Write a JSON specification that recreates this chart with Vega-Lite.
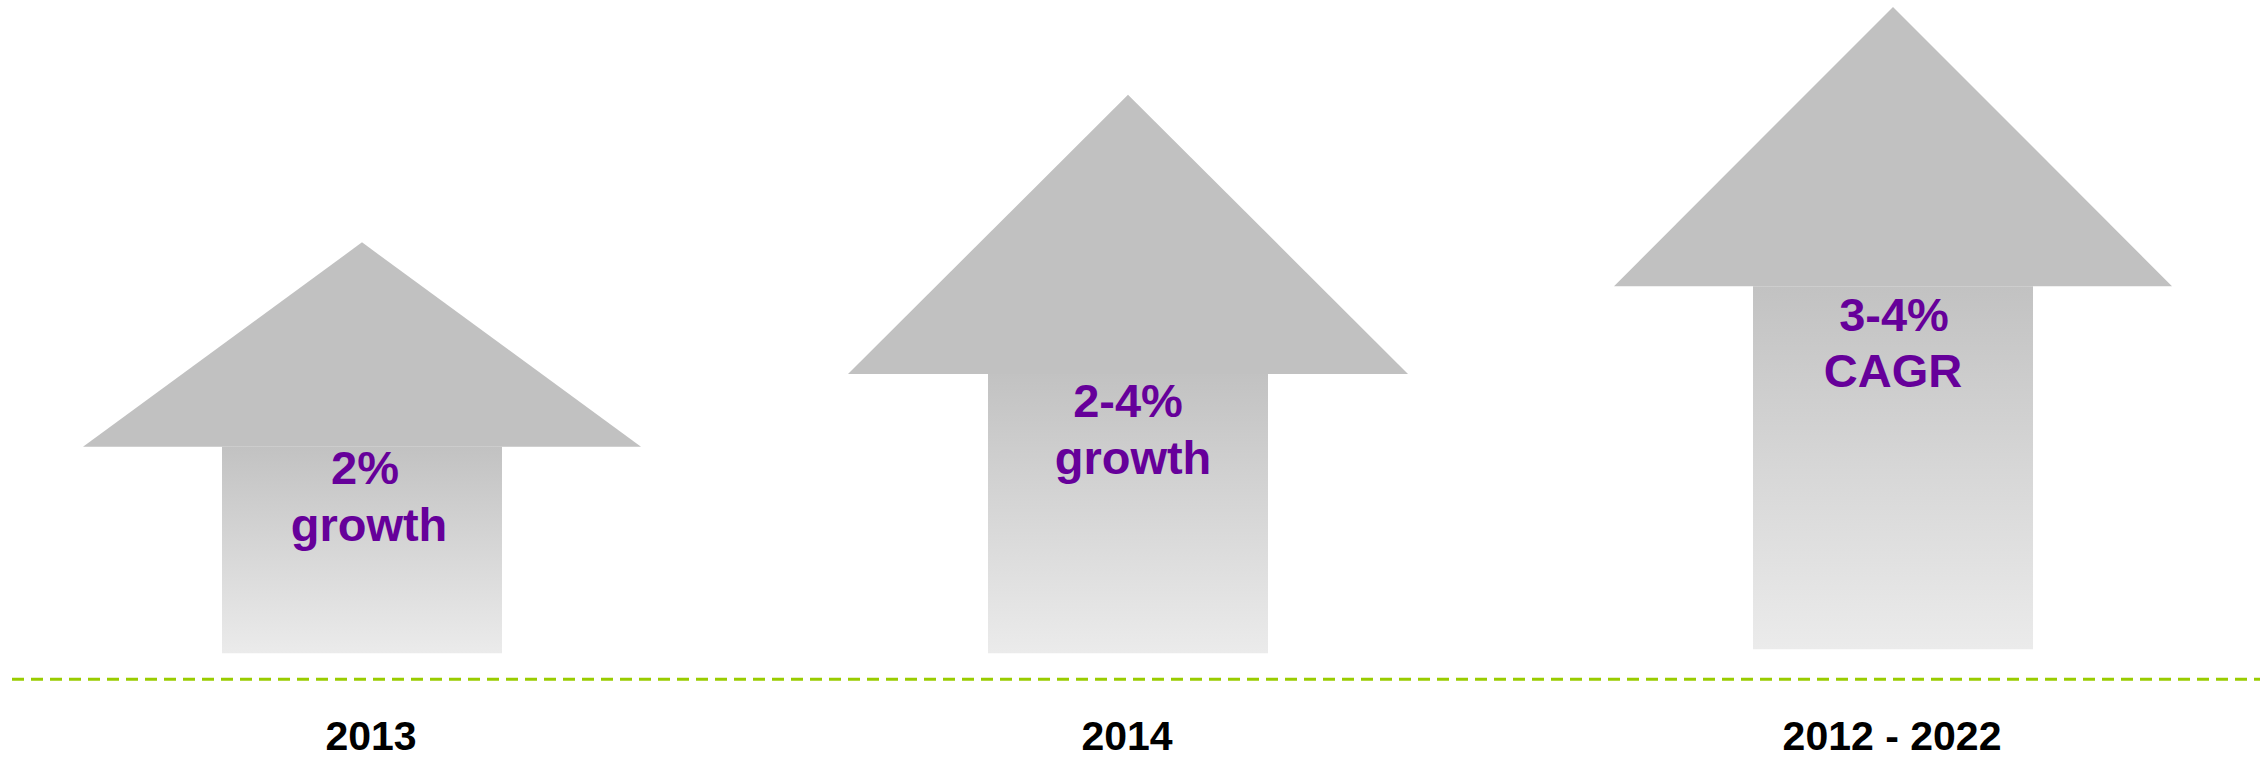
{
  "$schema": "https://vega.github.io/schema/vega-lite/v6.json",
  "width": 2268,
  "height": 758,
  "autosize": {"type": "fit", "contains": "padding"},
  "padding": 0,
  "background": "#FFFFFF",
  "config": {"view": {"stroke": null}},
  "datasets": {
    "heads": [
      {"arrow": "2013", "px": 83, "top": 448, "base": 448},
      {"arrow": "2013", "px": 362, "top": 243, "base": 448},
      {"arrow": "2013", "px": 641, "top": 448, "base": 448},
      {"arrow": "2014", "px": 848, "top": 375, "base": 375},
      {"arrow": "2014", "px": 1128, "top": 95, "base": 375},
      {"arrow": "2014", "px": 1408, "top": 375, "base": 375},
      {"arrow": "2012 - 2022", "px": 1614, "top": 287, "base": 287},
      {"arrow": "2012 - 2022", "px": 1893, "top": 7, "base": 287},
      {"arrow": "2012 - 2022", "px": 2172, "top": 287, "base": 287}
    ],
    "shafts": [
      {"arrow": "2013", "left": 222, "right": 502, "top": 448, "bottom": 655},
      {"arrow": "2014", "left": 988, "right": 1268, "top": 375, "bottom": 655},
      {"arrow": "2012 - 2022", "left": 1753, "right": 2033, "top": 287, "bottom": 651}
    ],
    "labels": [
      {"text": "2%", "cx": 365, "cy": 485},
      {"text": "growth", "cx": 369, "cy": 542},
      {"text": "2-4%", "cx": 1128, "cy": 418},
      {"text": "growth", "cx": 1133, "cy": 475},
      {"text": "3-4%", "cx": 1894, "cy": 332},
      {"text": "CAGR", "cx": 1893, "cy": 388}
    ],
    "baseline": [{"from": 12, "to": 2260, "level": 681}],
    "years": [
      {"year": "2013", "cx": 371, "cy": 752},
      {"year": "2014", "cx": 1127, "cy": 752},
      {"year": "2012 - 2022", "cx": 1892, "cy": 752}
    ]
  },
  "layer": [
    {
      "data": {"name": "heads"},
      "mark": {"type": "area", "color": "#C1C1C1", "line": false, "interpolate": "linear", "orient": "vertical"},
      "encoding": {
        "x": {"field": "px", "type": "quantitative", "scale": {"domain": [0, 2268], "nice": false, "zero": false}, "axis": null},
        "y": {"field": "top", "type": "quantitative", "scale": {"domain": [0, 758], "nice": false, "zero": false, "reverse": true}, "axis": null},
        "y2": {"field": "base"},
        "detail": {"field": "arrow", "type": "nominal"}
      }
    },
    {
      "data": {"name": "shafts"},
      "mark": {
        "type": "rect",
        "color": {
          "gradient": "linear",
          "x1": 0, "y1": 0, "x2": 0, "y2": 1,
          "stops": [
            {"offset": 0, "color": "#C2C2C2"},
            {"offset": 1, "color": "#EBEBEB"}
          ]
        }
      },
      "encoding": {
        "x": {"field": "left", "type": "quantitative", "scale": {"domain": [0, 2268], "nice": false, "zero": false}, "axis": null},
        "x2": {"field": "right"},
        "y": {"field": "top", "type": "quantitative", "scale": {"domain": [0, 758], "nice": false, "zero": false, "reverse": true}, "axis": null},
        "y2": {"field": "bottom"}
      }
    },
    {
      "data": {"name": "labels"},
      "mark": {"type": "text", "font": "Liberation Sans", "fontWeight": "bold", "fontSize": 47, "color": "#66009A", "align": "center", "baseline": "alphabetic"},
      "encoding": {
        "x": {"field": "cx", "type": "quantitative", "scale": {"domain": [0, 2268], "nice": false, "zero": false}, "axis": null},
        "y": {"field": "cy", "type": "quantitative", "scale": {"domain": [0, 758], "nice": false, "zero": false, "reverse": true}, "axis": null},
        "text": {"field": "text", "type": "nominal"}
      }
    },
    {
      "data": {"name": "baseline"},
      "mark": {"type": "rule", "color": "#99CC00", "strokeWidth": 3, "strokeDash": [12, 7]},
      "encoding": {
        "x": {"field": "from", "type": "quantitative", "scale": {"domain": [0, 2268], "nice": false, "zero": false}, "axis": null},
        "x2": {"field": "to"},
        "y": {"field": "level", "type": "quantitative", "scale": {"domain": [0, 758], "nice": false, "zero": false, "reverse": true}, "axis": null}
      }
    },
    {
      "data": {"name": "years"},
      "mark": {"type": "text", "font": "Liberation Sans", "fontWeight": "bold", "fontSize": 41, "color": "#000000", "align": "center", "baseline": "alphabetic"},
      "encoding": {
        "x": {"field": "cx", "type": "quantitative", "scale": {"domain": [0, 2268], "nice": false, "zero": false}, "axis": null},
        "y": {"field": "cy", "type": "quantitative", "scale": {"domain": [0, 758], "nice": false, "zero": false, "reverse": true}, "axis": null},
        "text": {"field": "year", "type": "nominal"}
      }
    }
  ]
}
